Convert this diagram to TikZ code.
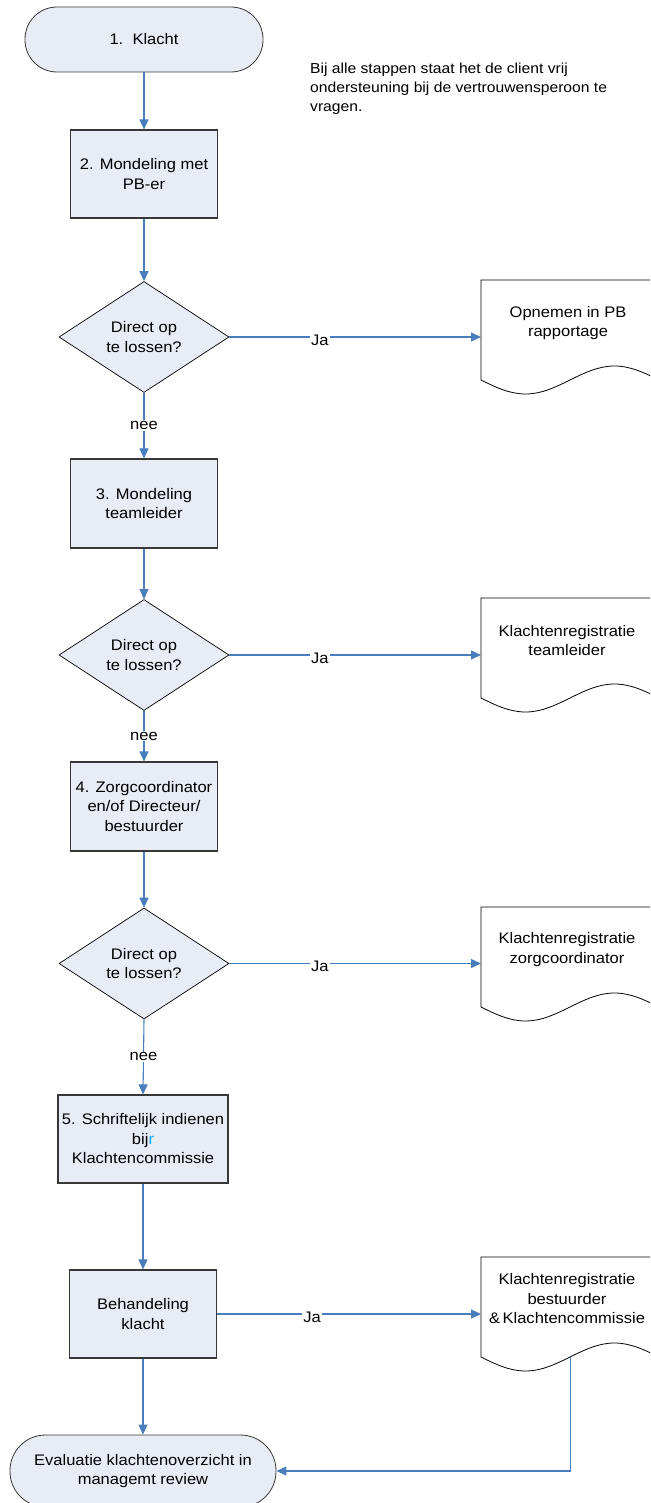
\documentclass[tikz,border=0pt]{standalone}
\usepackage{fontspec}
\setmainfont{Liberation Sans}[FakeStretch=1.08]
\usetikzlibrary{arrows.meta,shapes.geometric}
\definecolor{fillc}{RGB}{232,236,245}
\definecolor{linec}{RGB}{74,126,187}
\definecolor{edgec}{RGB}{55,55,55}
\definecolor{cyanr}{RGB}{0,176,240}
\begin{document}
\begin{tikzpicture}[x=1pt,y=-1pt,
  font=\fontsize{15.3}{19.5}\selectfont,
  term/.style={draw=edgec, line width=0.8pt, fill=fillc, rectangle, align=center, inner sep=0pt},
  procbox/.style={draw=edgec, line width=1.2pt, fill=fillc, rectangle, align=center, inner sep=0pt},
  decision/.style={draw=black, line width=0.7pt, fill=fillc, diamond, aspect=1.53, inner sep=0pt,
    minimum width=170pt, minimum height=111pt, align=center},
  docline/.style={draw=black, line width=0.8pt, fill=white},
  docbody/.style={rectangle, inner sep=0pt, minimum width=178pt, minimum height=100pt, anchor=north west},
  doctext/.style={align=center, inner sep=0pt},
  flow/.style={draw=linec, line width=1.1pt, -{Triangle[length=10pt,width=9pt]}},
  lbl/.style={fill=white, inner sep=1pt, text=black}
]
\useasboundingbox (0,0) rectangle (650,1503);
\clip (0,0) rectangle (650,1503);

% terminators
\node[term, minimum width=238pt, minimum height=65pt, rounded corners=32pt] (t1) at (144,39.5) {1.\ \ Klacht};
\node[term, minimum width=266pt, minimum height=72pt, rounded corners=35.5pt] (t2) at (143,1471) {Evaluatie klachtenoverzicht in\\managemt review};

% note
\node[anchor=west, align=left, inner sep=0pt, font=\fontsize{14.5}{19}\selectfont] (note) at (310,89) {Bij alle stappen staat het de client vrij\\ondersteuning bij de vertrouwensperoon te\\vragen.};

% process boxes
\node[procbox, minimum width=147.5pt, minimum height=88pt] (b2) at (144,174) {2. Mondeling met\\PB-er};
\node[procbox, minimum width=147.5pt, minimum height=89pt] (b3) at (144,503.5) {3. Mondeling\\teamleider};
\node[procbox, minimum width=147.5pt, minimum height=89pt] (b4) at (144,806.5) {4. Zorgcoordinator\\en/of Directeur/\\bestuurder};
\node[procbox, minimum width=170pt, minimum height=88pt] (b5) at (143,1139) {5. Schriftelijk indienen\\bij{\color{cyanr}r}\\Klachtencommissie};
\node[procbox, minimum width=147pt, minimum height=88pt] (b6) at (143,1314) {Behandeling\\klacht};

% decisions
\node[decision] (d1) at (144,337) {Direct op\\te lossen?};
\node[decision] (d2) at (144,655) {Direct op\\te lossen?};
\node[decision] (d3) at (144,963.5) {Direct op\\te lossen?};

% documents
\foreach \t in {280,598,907,1257} {
  \draw[docline] (481,\t) -- ++(178,0) -- ++(0,100)
    sin ++(-44.5,-14) cos ++(-44.5,14) sin ++(-44.5,14) cos ++(-44.5,-14) -- cycle;
}
\node[docbody] (doc1) at (481,280) {};
\node[docbody] (doc2) at (481,598) {};
\node[docbody] (doc3) at (481,907) {};
\node[docbody] (doc4) at (481,1257) {};
\node[doctext] (doc1t) at (568,323) {Opnemen in PB\\rapportage};
\node[doctext] (doc2t) at (567,640.5) {Klachtenregistratie\\teamleider};
\node[doctext] (doc3t) at (567,949.5) {Klachtenregistratie\\zorgcoordinator};
\node[doctext] (doc4t) at (567,1299) {Klachtenregistratie\\bestuurder\\\&\,Klachtencommissie};

% connectors
\draw[flow] (t1.south) -- (b2.north);
\draw[flow] (b2.south) -- (d1.north);
\draw[flow] (d1.south) -- node[lbl]{nee} (b3.north);
\draw[flow] (d1.east) -- node[lbl, pos=0.36, yshift=-3pt]{Ja} (d1.east -| doc1.west);
\draw[flow] (b3.south) -- (d2.north);
\draw[flow] (d2.south) -- node[lbl]{nee} (b4.north);
\draw[flow] (d2.east) -- node[lbl, pos=0.36, yshift=-3pt]{Ja} (d2.east -| doc2.west);
\draw[flow] (b4.south) -- (d3.north);
\draw[flow] (d3.south) -- node[lbl]{nee} (b5.north);
\draw[flow] (d3.east) -- node[lbl, pos=0.36, yshift=-3pt]{Ja} (d3.east -| doc3.west);
\draw[flow] (b5.south) -- (b6.north);
\draw[flow] (b6.east) -- node[lbl, pos=0.36, yshift=-3pt]{Ja} (b6.east -| doc4.west);
\draw[flow] (b6.south) -- (t2.north);
\draw[flow] (doc4.south) |- (t2.east);
\end{tikzpicture}
\end{document}
